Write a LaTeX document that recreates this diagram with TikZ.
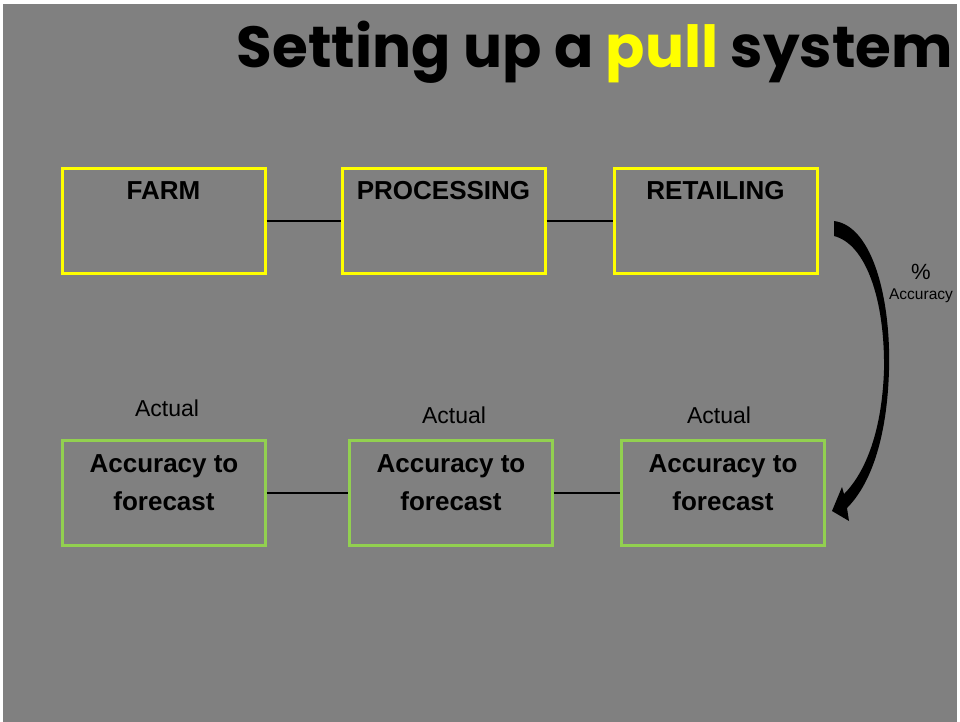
\documentclass[tikz,border=0pt]{standalone}
\usepackage{fontspec}
\setmainfont{Liberation Sans}
\newfontfamily\titlefont{Poppins}
\usetikzlibrary{calc}
\definecolor{slidegray}{HTML}{808080}
\definecolor{boxyellow}{HTML}{FFFF00}
\definecolor{boxgreen}{HTML}{92D050}

\begin{document}
\begin{tikzpicture}[x=1pt,y=-1pt]
    % Setup the styles for the boxes
        \tikzset{stage box/.style={draw=boxyellow,
                                   line width=3pt,
                                   minimum width=203pt,
                                   minimum height=105pt,
                                   inner sep=4pt,
                                   text height=27pt,
                                   text depth=70pt,
                                   font=\fontsize{26}{30}\selectfont\bfseries},
                 check box/.style={draw=boxgreen,
                                   line width=2.2pt,
                                   minimum width=203pt,
                                   minimum height=105pt,
                                   align=center,
                                   text depth=20pt,
                                   font=\fontsize{26}{38}\selectfont\bfseries},
                 note/.style={font=\fontsize{23}{26}\selectfont}}
        \useasboundingbox (0,0) rectangle (960,722);
        \fill[slidegray] (3,4) rectangle (957,722);
        % Title
        \node[anchor=base east,inner sep=0pt,font=\titlefont\fontsize{58}{58}\selectfont\bfseries]
            at (953,68) (title) {Setting up a \textcolor{boxyellow}{pull} system};
        % Draw the stages
        \node[stage box] at (163.5,221) (farm)       {FARM};
        \node[stage box] at (443.5,221) (processing) {PROCESSING};
        \node[stage box] at (715.5,221) (retailing)  {RETAILING};
        % Draw the accuracy boxes
        \node[check box] at (164,493) (acc_farm)    {Accuracy to\\forecast};
        \node[check box] at (451,493) (acc_proc)    {Accuracy to\\forecast};
        \node[check box] at (723,493) (acc_retail)  {Accuracy to\\forecast};
        \node[note] at (167,408) (act_farm)   {Actual};
        \node[note] at (454,415) (act_proc)   {Actual};
        \node[note] at (719,415) (act_retail) {Actual};
        % Connect the boxes
        \draw[line width=2pt] (farm) -- (processing) (processing) -- (retailing);
        \draw[line width=2pt] (acc_farm) -- (acc_proc) (acc_proc) -- (acc_retail);
        % Curved arrow back down
        \begin{scope}[shift={(retailing.east)}]
            \fill (15.5,0) .. controls (54.5,5) and (72.5,79) .. (70.5,149)
                  .. controls (68.5,219) and (51.5,264) .. (28.5,287)
                  -- (30.5,300) -- (13.5,290) -- (23.5,266) -- (25.5,273)
                  .. controls (47.5,251) and (63.5,209) .. (65.5,149)
                  .. controls (66.5,79) and (47.5,23) .. (15.5,15) -- cycle;
        \end{scope}
        \node[font=\fontsize{22}{24}\selectfont] at (921,272) (pct) {\%};
        \node[font=\fontsize{15.5}{18}\selectfont,inner sep=1pt] at (921,296) (pct_text) {Accuracy};
\end{tikzpicture}
\end{document}
